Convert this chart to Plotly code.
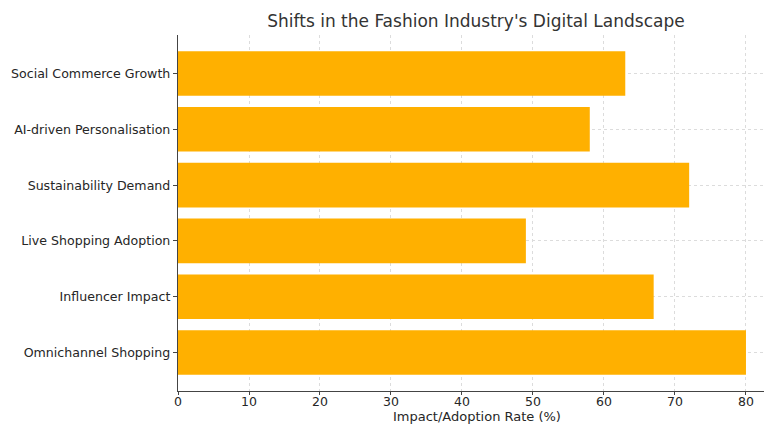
import plotly.graph_objects as go

categories = ["Omnichannel Shopping", "Influencer Impact", "Live Shopping Adoption",
              "Sustainability Demand", "AI-driven Personalisation", "Social Commerce Growth"]
values = [80, 67, 49, 72, 58, 63]
x_ticks = [0, 10, 20, 30, 40, 50, 60, 70, 80]

fig = go.Figure(go.Bar(
    y=categories, x=values, orientation="h",
    marker=dict(color="#FFB000", line=dict(width=0)),
    width=0.8,
))

font_family = "DejaVu Sans"
fig.update_layout(
    width=764, height=424,
    margin=dict(l=178, r=0, t=35, b=33, autoexpand=False),
    paper_bgcolor="white", plot_bgcolor="white",
    font=dict(family=font_family, color="#262626", size=12),
    title=dict(text="Shifts in the Fashion Industry's Digital Landscape",
               x=476 / 764, xanchor="center", y=1 - 21 / 424, yanchor="middle",
               font=dict(size=17, color="#333333", family=font_family)),
    showlegend=False,
    annotations=[dict(text="Impact/Adoption Rate (%)", xref="paper", yref="paper",
                      x=(476.5 - 178) / 586, y=-(416 - 391) / 356,
                      xanchor="center", yanchor="middle", showarrow=False,
                      font=dict(size=13, color="#262626", family=font_family))],
)
fig.update_xaxes(
    range=[0, 82.54], tickvals=x_ticks, ticktext=[str(t) for t in x_ticks],
    showgrid=True, gridcolor="#dcdcdc", griddash="dot", gridwidth=1,
    showline=True, linecolor="#444444", linewidth=1.3,
    ticks="outside", ticklen=3, tickcolor="#444444",
    tickfont=dict(size=12.5), zeroline=False, automargin=False,
    ticklabelstandoff=-4,
)
fig.update_yaxes(
    categoryorder="array", categoryarray=categories, range=[-0.69, 5.69],
    showgrid=True, gridcolor="#dcdcdc", griddash="dot", gridwidth=1,
    showline=True, linecolor="#444444", linewidth=1.3,
    ticks="outside", ticklen=4, tickcolor="#444444",
    tickfont=dict(size=12.6), zeroline=False, automargin=False,
    ticklabelstandoff=0,
)

fig.write_html("out.html", config={"displayModeBar": False},
               post_script="document.body.style.margin='0px';")
